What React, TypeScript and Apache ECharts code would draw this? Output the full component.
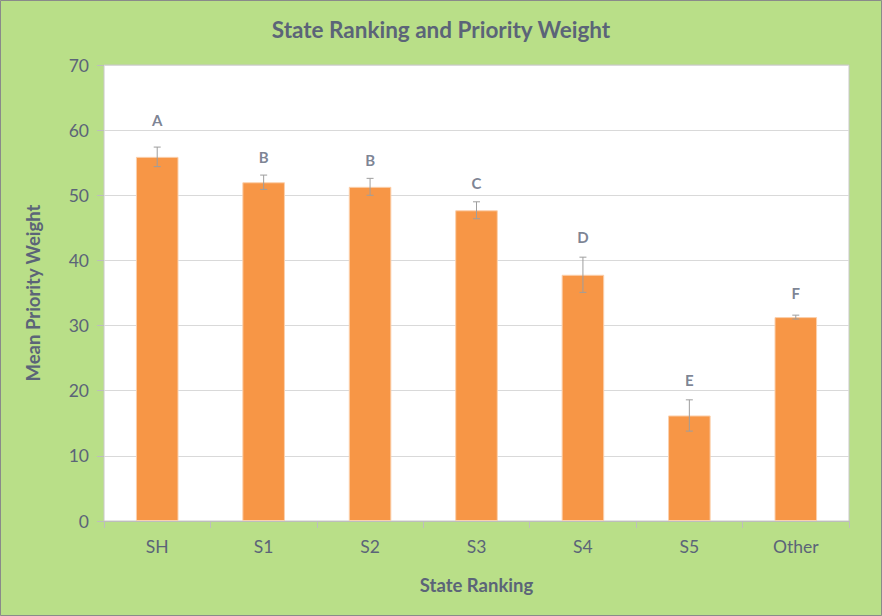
import React, { useEffect, useRef } from "react";
import * as echarts from "echarts";

const categories = ["SH", "S1", "S2", "S3", "S4", "S5", "Other"];
const meanValues = [55.9, 52.0, 51.3, 47.7, 37.8, 16.2, 31.3];
const errorValues = [1.5, 1.1, 1.3, 1.3, 2.7, 2.4, 0.3];
const groupLetters = ["A", "B", "B", "C", "D", "E", "F"];
const letterValues = [61.6, 55.9, 55.4, 51.9, 43.6, 21.6, 35.0];
const yTicks = [0, 10, 20, 30, 40, 50, 60, 70];

const FONT = "Lato, 'Open Sans', sans-serif";
const TEXT = "#5b6478";

export default function App() {
  const ref = useRef<HTMLDivElement>(null);
  useEffect(() => {
    if (!ref.current) return;
    const chart = echarts.init(ref.current, undefined, { renderer: "svg" });
    chart.setOption({
      animation: false,
      backgroundColor: "#b9df88",
      title: {
        text: "State Ranking and Priority Weight",
        left: "center",
        top: 13,
        textStyle: { color: TEXT, fontSize: 22.5, fontWeight: "bold", fontFamily: FONT },
      },
      graphic: [
        {
          type: "rect",
          shape: { x: 0.5, y: 0.5, width: 881, height: 615 },
          style: { fill: "none", stroke: "#8a8a8a", lineWidth: 1 },
          silent: true,
        },
      ],
      grid: {
        left: 104,
        right: 33,
        top: 65,
        bottom: 95,
        show: true,
        backgroundColor: "#ffffff",
        borderColor: "#c8c8c8",
        borderWidth: 1,
      },
      xAxis: {
        type: "category",
        data: categories,
        name: "State Ranking",
        nameLocation: "middle",
        nameGap: 54,
        nameTextStyle: { color: TEXT, fontSize: 18.5, fontWeight: "bold", fontFamily: FONT },
        axisLine: { lineStyle: { color: "#bdbdbd" } },
        axisTick: { show: true, alignWithLabel: false, length: 7, lineStyle: { color: "#bdbdbd" } },
        axisLabel: { color: TEXT, fontSize: 17.5, margin: 16, fontFamily: FONT },
      },
      yAxis: {
        type: "value",
        min: 0,
        max: 70,
        interval: 10,
        name: "Mean Priority Weight",
        nameLocation: "middle",
        nameGap: 62,
        nameTextStyle: { color: TEXT, fontSize: 18.5, fontWeight: "bold", fontFamily: FONT },
        axisLine: { show: false },
        axisTick: { show: true, length: 7, lineStyle: { color: "#bdbdbd" } },
        axisLabel: {
          color: TEXT,
          fontSize: 17.5,
          margin: 15,
          fontFamily: FONT,
          formatter: (v: number) => (yTicks.includes(v) ? String(v) : ""),
        },
        splitLine: { lineStyle: { color: "#d9d9d9", width: 1 } },
      },
      series: [
        {
          type: "bar",
          data: meanValues,
          barWidth: "40%",
          itemStyle: { color: "#f79646", borderColor: "#fbd0ad", borderWidth: 1 },
          z: 2,
        },
        {
          type: "custom",
          z: 3,
          data: meanValues.map((v, i) => [i, v, errorValues[i]]),
          renderItem: (params: any, api: any) => {
            const x = api.value(0);
            const v = api.value(1);
            const e = api.value(2);
            const top = api.coord([x, v + e]);
            const bot = api.coord([x, v - e]);
            const cap = 3.5;
            const style = { stroke: "#9e9e9e", lineWidth: 1, fill: "none" };
            return {
              type: "group",
              children: [
                { type: "line", shape: { x1: top[0], y1: top[1], x2: bot[0], y2: bot[1] }, style },
                { type: "line", shape: { x1: top[0] - cap, y1: top[1], x2: top[0] + cap, y2: top[1] }, style },
                { type: "line", shape: { x1: bot[0] - cap, y1: bot[1], x2: bot[0] + cap, y2: bot[1] }, style },
              ],
            };
          },
        },
        {
          type: "scatter",
          symbolSize: 0,
          z: 4,
          data: letterValues.map((v, i) => [i, v]),
          label: {
            show: true,
            position: "inside",
            formatter: (p: any) => groupLetters[p.dataIndex],
            color: TEXT,
            fontSize: 15,
            fontWeight: "bold",
            fontFamily: FONT,
          },
        },
      ],
    });
    return () => chart.dispose();
  }, []);
  return (
    <div
      ref={ref}
      style={{ position: "fixed", left: 0, top: 0, width: 882, height: 616 }}
    />
  );
}
